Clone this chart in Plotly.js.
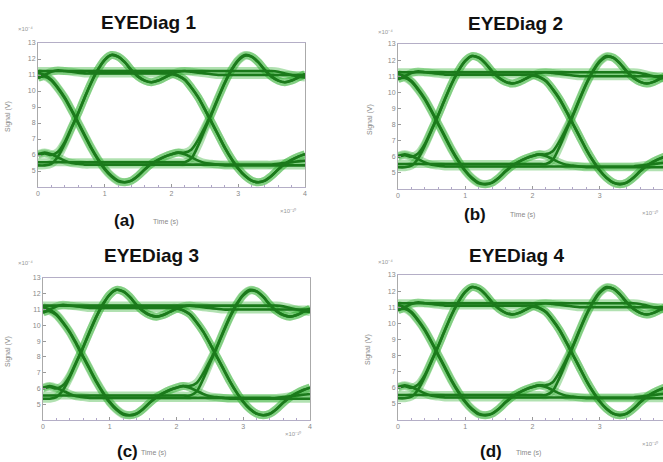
<!DOCTYPE html>
<html>
<head>
<meta charset="utf-8">
<script src="https://cdn.plot.ly/plotly-3.0.1.min.js"></script>
<style>
  html, body { margin: 0; padding: 0; background: #ffffff; }
  #chart { width: 663px; height: 462px; }
</style>
</head>
<body>
<div id="chart"></div>
<script>
// ---- data (time in units of 1e-10 s, signal in units of 1e-4 V) ----
const timeAxis = [0.0,0.1,0.2,0.3,0.4,0.5,0.6,0.7,0.8,0.9,1.0,1.1,1.2,1.3,1.4,1.5,1.6,1.7,1.8,1.9,2.0,2.1,2.2,2.3,2.4,2.5,2.6,2.7,2.8,2.9,3.0,3.1,3.2,3.3,3.4,3.5,3.6,3.7,3.8,3.9,4.0];

const waveLLL = [6.05,6.15,6.05,5.85,5.65,5.5,5.45,5.4,5.4,5.4, 5.4,5.4,5.4,5.4,5.4,5.4,5.4,5.4,5.4,5.4, 5.4,5.4,5.4,5.4,5.4,5.4,5.4,5.4,5.4,5.4, 5.4,5.4,5.4,5.4,5.4,5.4,5.45,5.5,5.55,5.6,5.65];
const waveLLH = [5.55,5.55,5.55,5.55,5.55,5.55,5.55,5.55,5.55,5.55, 5.55,5.55,5.55,5.55,5.55,5.55,5.55,5.55,5.55,5.55, 5.55,5.55,5.55,5.8,6.6,7.6,8.55,9.55,10.5,11.3, 11.9,12.2,12.15,11.8,11.3,10.9,10.65,10.55,10.65,10.85,11.05];
const waveLHL = [6.0,6.1,6.0,6.2,6.8,7.7,8.6,9.6,10.55,11.35, 11.95,12.25,12.15,11.8,11.3,10.9,10.65,10.55,10.65,10.85, 11.05,10.95,10.7,10.2,9.6,8.85,8.05,7.25,6.45,5.75, 5.15,4.7,4.4,4.3,4.4,4.7,5.1,5.45,5.7,5.9,6.05];
const waveLHH = [5.35,5.35,5.45,5.9,6.7,7.65,8.6,9.6,10.55,11.35, 11.95,12.25,12.15,11.8,11.3,10.9,10.65,10.55,10.65,10.85, 11.05,11.2,11.25,11.2,11.15,11.1,11.05,11.0,11.0,11.0, 11.0,11.0,11.0,11.0,11.0,11.0,11.0,11.0,11.0,11.0,11.0];
const waveHLL = [11.15,11.0,10.7,10.2,9.6,8.85,8.05,7.25,6.45,5.75, 5.15,4.7,4.4,4.3,4.4,4.7,5.1,5.45,5.7,5.9, 6.05,6.15,6.05,5.85,5.65,5.5,5.45,5.4,5.35,5.35, 5.35,5.35,5.35,5.35,5.35,5.35,5.35,5.35,5.35,5.35,5.35];
const waveHLH = [10.85,10.9,10.65,10.15,9.55,8.8,8.0,7.2,6.4,5.7, 5.1,4.65,4.35,4.3,4.4,4.7,5.1,5.45,5.7,5.9, 6.05,6.15,6.15,6.35,6.95,7.75,8.6,9.6,10.55,11.35, 11.95,12.25,12.15,11.8,11.3,10.9,10.65,10.55,10.65,10.85,11.05];
const waveHHL = [10.8,11.0,11.2,11.3,11.25,11.2,11.15,11.1,11.1,11.1, 11.1,11.1,11.1,11.1,11.1,11.1,11.1,11.1,11.1,11.1, 11.1,10.95,10.7,10.2,9.6,8.85,8.05,7.25,6.45,5.75, 5.15,4.7,4.4,4.3,4.4,4.7,5.1,5.45,5.7,5.9,6.05];
const waveHHH = [11.25,11.25,11.25,11.25,11.25,11.25,11.25,11.25,11.25,11.25, 11.25,11.25,11.25,11.25,11.25,11.25,11.25,11.25,11.25,11.25, 11.25,11.25,11.25,11.25,11.25,11.25,11.25,11.25,11.25,11.25, 11.25,11.25,11.25,11.25,11.25,11.25,11.2,11.1,11.0,10.9,10.85];

const panelTitles = ['EYEDiag 1', 'EYEDiag 2', 'EYEDiag 3', 'EYEDiag 4'];
const panelLetters = ['(a)', '(b)', '(c)', '(d)'];
const xTickVals = [0, 1, 2, 3, 4];
const yTickVals = [5, 6, 7, 8, 9, 10, 11, 12, 13];
const xAxisLabel = 'Time (s)';
const yAxisLabel = 'Signal (V)';
const xExponent = '×10⁻¹⁰';
const yExponent = '×10⁻⁴';

// ---- layout helpers ----
const W = 663, H = 462;
const waves = [waveLLL, waveLLH, waveLHL, waveLHH, waveHLL, waveHLH, waveHHL, waveHHH];

// plot boxes in pixels: [left, right, top, bottom, xmax]
const boxes = [
  [38, 305, 43, 187, 4],
  [398, 663, 44, 189, 4 * (663 - 398) / (667 - 398)],
  [43, 310, 278, 420, 4],
  [398, 663, 275, 420, 4 * (663 - 398) / (667 - 398)]
];

const FONT = 'Liberation Sans, Arial, sans-serif';
const traces = [];
const layout = {
  width: W, height: H,
  margin: {l: 0, r: 0, t: 0, b: 0},
  paper_bgcolor: '#ffffff',
  plot_bgcolor: '#ffffff',
  showlegend: false,
  hovermode: false,
  font: {family: FONT},
  annotations: []
};

const titlePos = [[148, 22], [515, 23], [151, 255], [516, 255]];
const letterPos = [[124, 221], [475, 214], [127, 451], [491, 451]];
const timePos = [[165, 222], [522, 215], [153, 453], [528, 453]];
const signalPos = [[8, 117], [370, 120], [8, 352], [368, 350]];
const yExpPos = [[25, 29], [385, 32], [25, 263], [385, 262]];
const xExpPos = [[288, 210], [650, 212], [293, 433], [650, 443]];

function px(x) { return x / W; }
function py(y) { return 1 - y / H; }

boxes.forEach((b, i) => {
  const n = i === 0 ? '' : String(i + 1);
  const xa = 'x' + n, ya = 'y' + n;
  waves.forEach(w => {
    traces.push({
      type: 'scatter', mode: 'lines', x: timeAxis, y: w, xaxis: xa, yaxis: ya,
      line: {color: 'rgba(60,180,60,0.4)', width: 8, shape: 'spline', smoothing: 0.8},
      hoverinfo: 'skip'
    });
  });
  waves.forEach(w => {
    traces.push({
      type: 'scatter', mode: 'lines', x: timeAxis, y: w, xaxis: xa, yaxis: ya,
      line: {color: '#1b7a1b', width: 2.6, shape: 'spline', smoothing: 0.8},
      hoverinfo: 'skip'
    });
  });
  layout['xaxis' + n] = {
    domain: [px(b[0]), px(b[1])], range: [0, b[4]], anchor: ya,
    tickvals: xTickVals, ticks: 'inside', ticklen: 3, tickcolor: '#999',
    tickfont: {size: 7, color: '#888', family: FONT},
    showline: true, linecolor: '#b4aec6', linewidth: 1, mirror: true,
    showgrid: false, zeroline: false, fixedrange: true,
    minor: {dtick: 0.2, ticks: 'inside', ticklen: 2, tickcolor: '#b0a6c8', showgrid: false}
  };
  layout['yaxis' + n] = {
    domain: [py(b[3]), py(b[2])], range: [4, 13], anchor: xa,
    tickvals: yTickVals, ticks: 'inside', ticklen: 3, tickcolor: '#999',
    tickfont: {size: 7, color: '#888', family: FONT},
    showline: true, linecolor: '#aaaaaa', linewidth: 1, mirror: true,
    showgrid: false, zeroline: false, fixedrange: true
  };
  layout.annotations.push(
    {text: '<b>' + panelTitles[i] + '</b>', x: px(titlePos[i][0]), y: py(titlePos[i][1]), xref: 'paper', yref: 'paper',
     showarrow: false, xanchor: 'center', yanchor: 'middle', font: {size: 19, color: '#111', family: FONT}},
    {text: '<b>' + panelLetters[i] + '</b>', x: px(letterPos[i][0]), y: py(letterPos[i][1]), xref: 'paper', yref: 'paper',
     showarrow: false, xanchor: 'center', yanchor: 'middle', font: {size: 17, color: '#111', family: FONT}},
    {text: xAxisLabel, x: px(timePos[i][0]), y: py(timePos[i][1]), xref: 'paper', yref: 'paper',
     showarrow: false, xanchor: 'center', yanchor: 'middle', font: {size: 7, color: '#888', family: FONT}},
    {text: yAxisLabel, x: px(signalPos[i][0]), y: py(signalPos[i][1]), xref: 'paper', yref: 'paper', textangle: -90,
     showarrow: false, xanchor: 'center', yanchor: 'middle', font: {size: 7, color: '#888', family: FONT}},
    {text: yExponent, x: px(yExpPos[i][0]), y: py(yExpPos[i][1]), xref: 'paper', yref: 'paper',
     showarrow: false, xanchor: 'center', yanchor: 'middle', font: {size: 6, color: '#999', family: FONT}},
    {text: xExponent, x: px(xExpPos[i][0]), y: py(xExpPos[i][1]), xref: 'paper', yref: 'paper',
     showarrow: false, xanchor: 'center', yanchor: 'middle', font: {size: 6, color: '#999', family: FONT}}
  );
});

Plotly.newPlot('chart', traces, layout, {staticPlot: true, displayModeBar: false});
</script>
</body>
</html>
